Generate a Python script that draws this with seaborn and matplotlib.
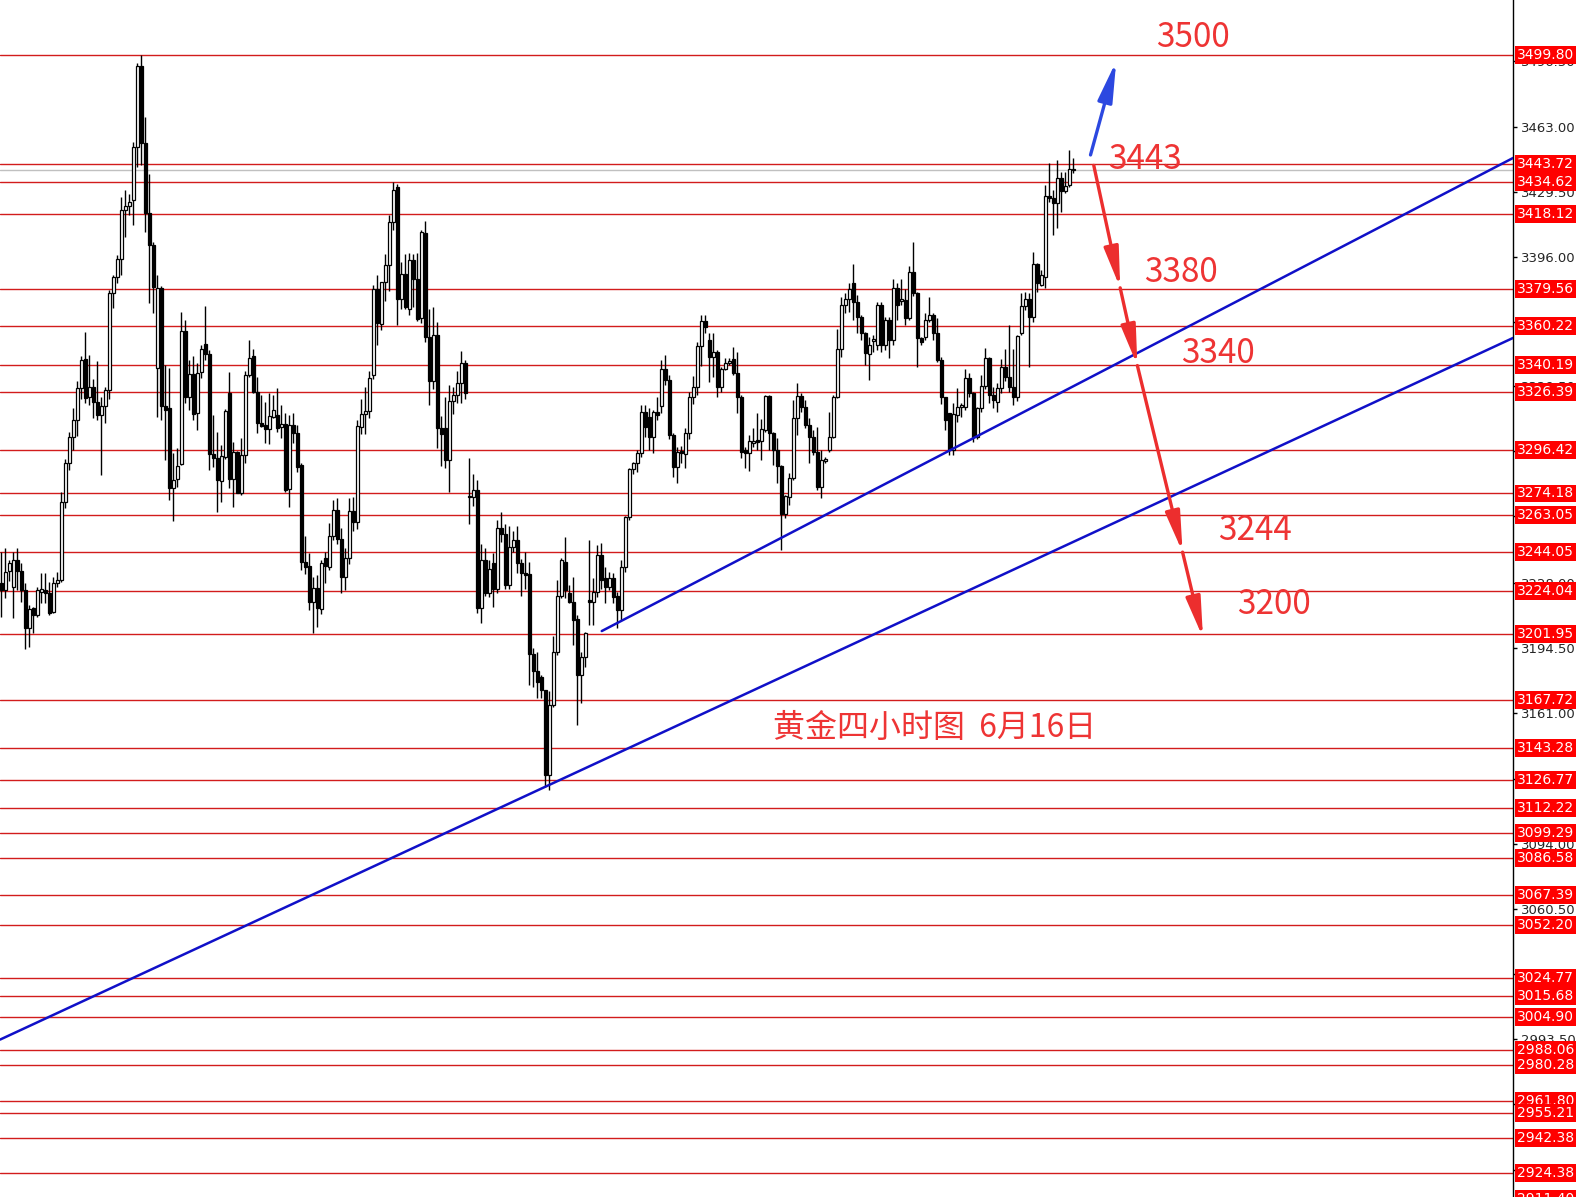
import matplotlib
matplotlib.use("Agg")
import matplotlib.pyplot as plt
import matplotlib.transforms as mtransforms
import numpy as np
import seaborn as sns

# ---- candle data (4H gold) ----
opens = [
    3228.0, 3224.5, 3234.5, 3225.9, 3240.0, 3234.5, 3224.5, 3204.8, 3215.1, 3211.7,
    3223.7, 3224.5, 3222.8, 3213.4, 3228.0, 3229.7, 3270.0, 3289.7, 3303.4, 3312.0,
    3328.3, 3343.2, 3323.7, 3329.2, 3321.4, 3314.6, 3319.2, 3327.4, 3377.2, 3385.4,
    3394.7, 3420.0, 3422.1, 3425.2, 3452.6, 3494.1, 3454.3, 3418.7, 3402.0, 3339.0,
    3379.7, 3319.0, 3318.0, 3277.0, 3281.4, 3289.2, 3357.8, 3323.6, 3335.5, 3315.4,
    3336.8, 3350.9, 3345.9, 3294.5, 3292.2, 3280.8, 3293.1, 3326.0, 3281.4, 3295.7,
    3274.6, 3294.0, 3335.1, 3344.9, 3326.5, 3310.3, 3309.4, 3307.2, 3313.7, 3314.5,
    3308.2, 3309.9, 3276.3, 3309.4, 3305.5, 3288.8, 3239.1, 3236.9, 3218.5, 3225.4,
    3214.6, 3240.8, 3236.5, 3252.3, 3265.7, 3250.6, 3231.4, 3241.1, 3265.1, 3259.3,
    3308.5, 3315.1, 3316.8, 3335.0, 3379.2, 3361.6, 3382.8, 3391.5, 3413.9, 3432.1,
    3374.5, 3387.3, 3369.3, 3394.2, 3384.8, 3364.5, 3408.1, 3354.8, 3331.9, 3355.8,
    3308.1, 3308.0, 3291.5, 3321.6, 3325.1, 3330.9, 3341.3, 3272.8, 3272.2, 3276.0,
    3215.1, 3240.1, 3223.0, 3238.6, 3225.1, 3256.2, 3253.1, 3227.2, 3246.9, 3250.0,
    3238.6, 3233.4, 3232.8, 3191.6, 3183.1, 3180.0, 3173.1, 3129.4, 3165.4, 3192.8,
    3221.5, 3239.1, 3222.9, 3218.6, 3209.5, 3180.8, 3189.9, 3218.9, 3218.6, 3223.7,
    3242.5, 3230.5, 3226.3, 3230.5, 3221.5, 3214.2, 3236.5, 3261.9, 3286.6, 3289.7,
    3294.9, 3316.3, 3313.7, 3303.4, 3316.3, 3319.2, 3338.1, 3332.6, 3304.3, 3288.0,
    3296.2, 3294.5, 3305.2, 3323.7, 3328.8, 3350.0, 3363.1, 3353.2, 3344.6, 3347.2,
    3328.8, 3338.1, 3341.2, 3343.2, 3336.0, 3324.0, 3296.6, 3295.2, 3300.4, 3301.7,
    3301.4, 3306.9, 3324.4, 3305.2, 3296.6, 3288.4, 3263.5, 3272.6, 3282.0, 3312.9,
    3324.4, 3318.9, 3309.5, 3303.5, 3295.7, 3277.4, 3291.1, 3296.6, 3303.5, 3323.7,
    3348.6, 3371.2, 3374.1, 3382.4, 3372.9, 3365.2, 3356.6, 3346.0, 3352.9, 3350.6,
    3371.2, 3350.6, 3363.5, 3353.2, 3379.8, 3373.4, 3373.8, 3364.3, 3388.3, 3377.2,
    3354.0, 3354.5, 3363.5, 3366.0, 3357.0, 3342.9, 3324.0, 3315.4, 3296.6, 3314.6,
    3318.9, 3318.9, 3333.5, 3325.7, 3303.4, 3318.0, 3329.7, 3343.7, 3324.9, 3321.4,
    3328.3, 3339.5, 3334.0, 3329.2, 3324.0, 3356.6, 3370.7, 3374.1, 3365.2, 3392.3,
    3381.5, 3385.4, 3427.3, 3426.1, 3423.8, 3436.4, 3430.0, 3432.9, 3440.6,
]
highs = [
    3244.3, 3246.0, 3240.0, 3244.3, 3246.0, 3238.2, 3228.0, 3216.8, 3216.0, 3226.3,
    3233.1, 3233.5, 3228.8, 3231.4, 3234.0, 3275.1, 3291.8, 3306.0, 3318.0, 3332.0,
    3345.0, 3357.5, 3345.5, 3333.0, 3342.4, 3324.0, 3328.8, 3379.0, 3386.6, 3396.9,
    3426.9, 3430.3, 3428.3, 3455.2, 3495.5, 3499.8, 3468.1, 3438.6, 3403.7, 3386.6,
    3381.0, 3340.2, 3339.0, 3295.0, 3297.4, 3367.7, 3363.4, 3342.8, 3344.9, 3341.1,
    3350.6, 3370.6, 3348.0, 3314.5, 3306.0, 3299.1, 3317.5, 3336.8, 3300.8, 3296.0,
    3302.5, 3337.4, 3353.1, 3348.3, 3334.3, 3324.8, 3321.4, 3325.7, 3324.8, 3328.3,
    3319.7, 3315.4, 3314.5, 3315.4, 3309.4, 3290.0, 3252.3, 3243.4, 3231.4, 3232.2,
    3240.0, 3244.2, 3258.8, 3270.8, 3271.7, 3256.2, 3246.0, 3271.7, 3272.5, 3312.2,
    3322.6, 3328.8, 3337.1, 3381.7, 3386.5, 3382.8, 3397.3, 3417.6, 3434.6, 3433.6,
    3393.5, 3397.3, 3397.7, 3397.3, 3397.7, 3409.7, 3414.3, 3369.3, 3370.3, 3362.4,
    3314.3, 3323.6, 3329.9, 3328.8, 3337.1, 3347.5, 3342.9, 3292.5, 3284.2, 3281.1,
    3248.3, 3245.9, 3240.0, 3243.8, 3260.4, 3264.9, 3258.3, 3257.2, 3255.0, 3257.2,
    3240.6, 3244.0, 3239.1, 3194.6, 3192.8, 3180.8, 3173.1, 3172.3, 3200.6, 3229.7,
    3240.9, 3252.0, 3227.1, 3231.4, 3211.7, 3192.8, 3203.1, 3250.3, 3230.5, 3247.7,
    3248.6, 3236.5, 3233.9, 3233.1, 3223.7, 3240.0, 3262.6, 3287.1, 3290.6, 3296.6,
    3319.7, 3319.7, 3318.0, 3317.2, 3324.0, 3342.9, 3345.5, 3335.2, 3305.2, 3298.3,
    3298.8, 3307.7, 3326.6, 3334.6, 3352.0, 3366.0, 3366.0, 3356.6, 3356.6, 3348.0,
    3339.5, 3343.8, 3343.8, 3349.8, 3347.2, 3324.9, 3298.3, 3304.3, 3307.7, 3315.8,
    3312.4, 3324.9, 3324.9, 3306.0, 3302.6, 3288.9, 3273.5, 3284.6, 3322.3, 3330.9,
    3325.8, 3322.3, 3312.9, 3306.9, 3308.6, 3296.6, 3293.0, 3316.3, 3324.9, 3358.7,
    3375.5, 3377.2, 3382.4, 3392.3, 3376.3, 3366.1, 3357.5, 3354.9, 3355.8, 3372.9,
    3372.9, 3365.2, 3365.2, 3384.4, 3382.7, 3384.4, 3379.3, 3391.3, 3403.8, 3378.0,
    3354.9, 3366.9, 3375.5, 3367.2, 3364.3, 3344.6, 3324.0, 3315.4, 3320.6, 3328.3,
    3320.6, 3338.1, 3336.0, 3326.6, 3318.9, 3335.2, 3348.9, 3344.6, 3329.2, 3330.9,
    3343.2, 3348.4, 3360.9, 3348.4, 3355.7, 3377.2, 3378.0, 3377.2, 3398.6, 3393.0,
    3389.2, 3432.9, 3444.1, 3430.3, 3445.8, 3439.8, 3439.8, 3450.9, 3446.6,
]
lows = [
    3210.8, 3220.2, 3229.0, 3210.0, 3224.5, 3218.5, 3194.0, 3195.4, 3202.3, 3210.8,
    3218.0, 3217.7, 3211.7, 3212.5, 3226.3, 3228.8, 3266.6, 3286.3, 3296.6, 3304.0,
    3323.0, 3320.6, 3319.7, 3312.9, 3312.0, 3283.7, 3310.6, 3323.0, 3369.4, 3382.3,
    3386.6, 3406.3, 3417.5, 3412.3, 3442.3, 3443.2, 3408.9, 3372.0, 3366.9, 3313.6,
    3312.0, 3291.4, 3271.0, 3260.0, 3277.7, 3288.8, 3320.5, 3317.1, 3312.0, 3306.8,
    3333.4, 3342.8, 3286.2, 3288.0, 3264.8, 3270.0, 3292.0, 3276.8, 3267.4, 3274.2,
    3273.4, 3290.0, 3334.3, 3325.7, 3305.1, 3308.5, 3300.0, 3299.5, 3312.8, 3306.0,
    3302.5, 3275.0, 3267.0, 3300.0, 3285.0, 3234.8, 3233.0, 3214.2, 3202.5, 3205.6,
    3212.0, 3228.0, 3235.0, 3250.0, 3248.0, 3222.8, 3224.5, 3238.0, 3255.0, 3256.0,
    3305.0, 3305.0, 3313.2, 3333.0, 3350.6, 3358.3, 3373.4, 3378.6, 3410.0, 3361.0,
    3369.3, 3369.3, 3366.0, 3370.3, 3363.0, 3362.0, 3352.0, 3319.5, 3328.0, 3297.7,
    3288.4, 3287.3, 3274.9, 3315.3, 3320.5, 3320.5, 3323.0, 3258.3, 3267.6, 3212.6,
    3207.5, 3221.4, 3221.0, 3215.8, 3223.0, 3249.0, 3225.0, 3225.1, 3244.0, 3233.4,
    3221.4, 3225.1, 3175.7, 3174.8, 3168.8, 3168.8, 3123.4, 3121.7, 3164.5, 3191.1,
    3220.3, 3220.3, 3217.7, 3196.3, 3155.1, 3166.3, 3185.1, 3206.5, 3206.5, 3221.0,
    3225.0, 3217.7, 3224.5, 3218.0, 3204.8, 3209.1, 3234.0, 3260.6, 3284.0, 3285.4,
    3293.0, 3303.4, 3296.6, 3294.9, 3312.0, 3315.4, 3330.0, 3302.0, 3282.9, 3279.4,
    3290.0, 3287.1, 3302.0, 3320.0, 3325.0, 3340.0, 3356.6, 3331.7, 3334.3, 3324.0,
    3326.6, 3337.8, 3340.3, 3335.2, 3315.5, 3292.3, 3287.2, 3285.5, 3298.3, 3296.6,
    3291.5, 3306.0, 3296.6, 3288.9, 3279.5, 3245.2, 3261.4, 3268.3, 3281.2, 3304.3,
    3316.0, 3307.7, 3289.7, 3294.0, 3276.0, 3271.7, 3289.7, 3295.7, 3302.6, 3323.2,
    3344.6, 3366.9, 3367.8, 3363.5, 3356.6, 3353.2, 3340.3, 3332.6, 3347.2, 3348.0,
    3347.2, 3348.0, 3343.8, 3350.6, 3363.5, 3371.2, 3360.9, 3363.5, 3376.0, 3339.5,
    3350.6, 3353.2, 3362.6, 3353.2, 3342.0, 3320.0, 3306.9, 3294.0, 3294.0, 3311.2,
    3313.7, 3317.0, 3324.0, 3300.9, 3302.0, 3316.0, 3328.0, 3320.6, 3318.0, 3316.3,
    3326.0, 3332.0, 3326.6, 3319.7, 3322.0, 3355.7, 3368.6, 3339.5, 3362.6, 3378.0,
    3381.0, 3379.8, 3424.0, 3407.2, 3410.6, 3419.2, 3428.6, 3432.1, 3439.3,
]
closes = [
    3224.5, 3234.0, 3238.2, 3240.0, 3234.5, 3224.5, 3204.8, 3214.6, 3211.7, 3224.5,
    3224.9, 3222.8, 3212.5, 3228.0, 3229.7, 3270.0, 3289.7, 3303.4, 3312.0, 3328.3,
    3342.9, 3323.2, 3329.2, 3321.4, 3314.6, 3319.2, 3327.4, 3377.2, 3385.4, 3394.7,
    3420.0, 3422.1, 3424.0, 3452.6, 3494.1, 3454.3, 3418.3, 3402.0, 3380.6, 3379.7,
    3319.0, 3317.0, 3277.0, 3281.0, 3288.3, 3357.8, 3323.6, 3335.5, 3315.0, 3336.3,
    3348.3, 3345.9, 3294.5, 3292.2, 3281.1, 3293.4, 3316.6, 3281.4, 3295.3, 3274.6,
    3294.0, 3335.1, 3343.7, 3326.5, 3310.3, 3309.1, 3307.3, 3314.0, 3317.1, 3308.0,
    3309.9, 3276.0, 3309.4, 3305.5, 3288.0, 3239.1, 3236.5, 3218.5, 3225.4, 3215.1,
    3238.2, 3236.9, 3252.3, 3265.7, 3250.6, 3231.4, 3241.1, 3265.1, 3259.7, 3309.1,
    3315.3, 3316.8, 3333.4, 3379.2, 3362.0, 3382.8, 3391.5, 3413.9, 3430.5, 3374.5,
    3387.3, 3370.3, 3394.2, 3384.8, 3364.1, 3408.7, 3354.8, 3331.9, 3355.8, 3308.1,
    3304.9, 3291.5, 3321.6, 3325.1, 3330.9, 3341.3, 3325.7, 3272.2, 3276.0, 3215.1,
    3240.1, 3223.0, 3235.5, 3225.1, 3256.2, 3253.1, 3227.2, 3246.9, 3250.0, 3238.6,
    3233.4, 3232.4, 3191.6, 3183.1, 3177.4, 3173.1, 3129.4, 3165.4, 3192.8, 3221.5,
    3240.0, 3224.6, 3218.6, 3209.1, 3180.8, 3189.9, 3202.3, 3218.6, 3223.7, 3242.5,
    3229.7, 3226.3, 3230.5, 3221.1, 3214.2, 3236.5, 3261.9, 3286.6, 3289.7, 3294.9,
    3316.3, 3308.6, 3303.4, 3316.3, 3314.6, 3338.1, 3332.6, 3304.3, 3288.0, 3295.7,
    3294.9, 3305.2, 3324.0, 3328.8, 3350.0, 3363.0, 3360.0, 3344.6, 3347.2, 3328.8,
    3338.1, 3341.2, 3342.6, 3336.0, 3324.0, 3295.7, 3295.2, 3301.4, 3301.4, 3300.9,
    3307.2, 3324.4, 3305.2, 3296.6, 3288.4, 3263.5, 3272.9, 3282.0, 3312.9, 3324.4,
    3318.9, 3309.5, 3303.5, 3295.7, 3277.4, 3291.5, 3291.1, 3303.5, 3323.7, 3348.6,
    3371.2, 3374.1, 3379.3, 3372.9, 3365.2, 3356.6, 3346.3, 3350.6, 3353.5, 3371.2,
    3350.6, 3363.5, 3353.2, 3379.8, 3371.2, 3373.8, 3364.3, 3388.3, 3377.2, 3354.0,
    3352.3, 3363.5, 3366.0, 3357.0, 3342.9, 3324.0, 3312.0, 3296.6, 3315.1, 3318.9,
    3319.2, 3333.5, 3325.7, 3303.4, 3318.0, 3329.7, 3343.7, 3324.9, 3322.3, 3328.3,
    3339.5, 3334.0, 3329.2, 3324.0, 3355.2, 3370.7, 3374.1, 3365.2, 3392.3, 3382.3,
    3386.6, 3427.3, 3426.1, 3423.8, 3436.4, 3430.0, 3432.4, 3441.0, 3440.8,
]

# horizontal support / resistance levels (red lines + price boxes)
levels = [3499.80, 3443.72, 3434.62, 3418.12, 3379.56, 3360.22, 3340.19, 3326.39,
          3296.42, 3274.18, 3263.05, 3244.05, 3224.04, 3201.95, 3167.72, 3143.28,
          3126.77, 3112.22, 3099.29, 3086.58, 3067.39, 3052.20, 3024.77, 3015.68,
          3004.90, 2988.06, 2980.28, 2961.80, 2955.21, 2942.38, 2924.38, 2911.40]
bid_price = 3440.5

# right-axis price scale
axis_ticks = [3496.50, 3463.00, 3429.50, 3396.00, 3362.50, 3329.50, 3296.00, 3262.50,
              3228.00, 3194.50, 3161.00, 3127.50, 3094.00, 3060.50, 3027.00, 2993.50,
              2960.00, 2926.00]

# trend lines (bar index, price)
trend_low_x = [-0.3, 377.9]
trend_low_y = [2993.2, 3354.2]
trend_high_x = [150.1, 377.9]
trend_high_y = [3203.4, 3446.8]

# projected path: blue up, red down through the targets
up_x = [272.1, 278.9]
up_y = [3447.0, 3498.0]
down_x = [273.1, 279.7, 284.0, 295.3, 300.4]
down_y = [3443.0, 3380.0, 3340.0, 3244.0, 3200.0]

target_labels = ["3500", "3443", "3380", "3340", "3244", "3200"]
target_x = [297.8, 285.9, 294.8, 304.2, 313.5, 318.1]
target_y = [3508.9, 3446.0, 3387.7, 3346.1, 3255.1, 3217.1]
title_text = "黄金四小时图  6月16日"

sns.set_style("white")
plt.rcParams['font.family'] = ['Noto Sans CJK SC', 'DejaVu Sans']

RED_TXT = '#ee3434'
LINE_RED = '#d21c1c'
BLUE = '#1010c8'

fig = plt.figure(figsize=(15.85, 11.97), dpi=100)
ax = fig.add_axes([0, 0, 1513 / 1585, 1])

# level lines first so candles sit on top
for lv in levels:
    ax.axhline(lv, color=LINE_RED, lw=1.0, zorder=1)
ax.axhline(bid_price, color='#c0c0c0', lw=1.0, zorder=1)

# candles
idx = np.arange(len(opens))
o = np.array(opens)
c = np.array(closes)
body_lo = np.minimum(o, c)
body_h = np.maximum(np.abs(c - o), 0.6)
colors = np.where(c >= o, 'white', 'black')
ax.vlines(idx, lows, highs, color='black', lw=1.0, zorder=3)
ax.bar(idx, body_h, bottom=body_lo, width=0.72, color=colors,
       edgecolor='black', linewidth=0.9, zorder=4)

# trend lines
sns.lineplot(x=trend_low_x, y=trend_low_y, color=BLUE, lw=1.8, ax=ax, zorder=5)
sns.lineplot(x=trend_high_x, y=trend_high_y, color=BLUE, lw=1.8, ax=ax, zorder=5)

# arrows
ax.annotate('', xy=(up_x[1], up_y[1]), xytext=(up_x[0], up_y[0]),
            arrowprops=dict(arrowstyle='-|>,head_length=1.1,head_width=0.2',
                            mutation_scale=22, color='#2c48e0', lw=2.4), zorder=6)
for k in range(len(down_x) - 1):
    ax.annotate('', xy=(down_x[k + 1], down_y[k + 1]), xytext=(down_x[k], down_y[k]),
                arrowprops=dict(arrowstyle='-|>,head_length=1.1,head_width=0.2',
                                mutation_scale=22, color='#ec2e2e', lw=2.4,
                                shrinkA=0, shrinkB=0), zorder=6)

for lab, tx, ty in zip(target_labels, target_x, target_y):
    ax.text(tx, ty, lab, color=RED_TXT, fontsize=24, ha='center', va='center', zorder=7)
ax.text(233.4, 3153.7, title_text, color=RED_TXT, fontsize=23,
        ha='center', va='center', zorder=7)

# limits / axis
ax.set_xlim(-0.33, 377.9)
ax.set_ylim(2912.2, 3528.1)
ax.set_xticks([])
ax.yaxis.tick_right()
ax.set_yticks(axis_ticks)
ax.set_yticklabels([f'{t:.2f}' for t in axis_ticks], family='DejaVu Sans', fontsize=9.5)
ax.tick_params(axis='y', direction='out', length=3, width=1, color='black', pad=3)
for side in ['top', 'left', 'bottom']:
    ax.spines[side].set_visible(False)
ax.spines['right'].set_color('black')
ax.spines['right'].set_linewidth(1.0)

# red price boxes on the scale
trans = mtransforms.blended_transform_factory(ax.transAxes, ax.transData)
for lv in levels:
    ax.text(1.0025, lv, f'{lv:.2f}', transform=trans, color='white', fontsize=10,
            family='DejaVu Sans', ha='left', va='center', clip_on=False, zorder=10,
            bbox=dict(facecolor='#ff0000', edgecolor='none', pad=1.4))

fig.savefig('out.png', dpi=100)
